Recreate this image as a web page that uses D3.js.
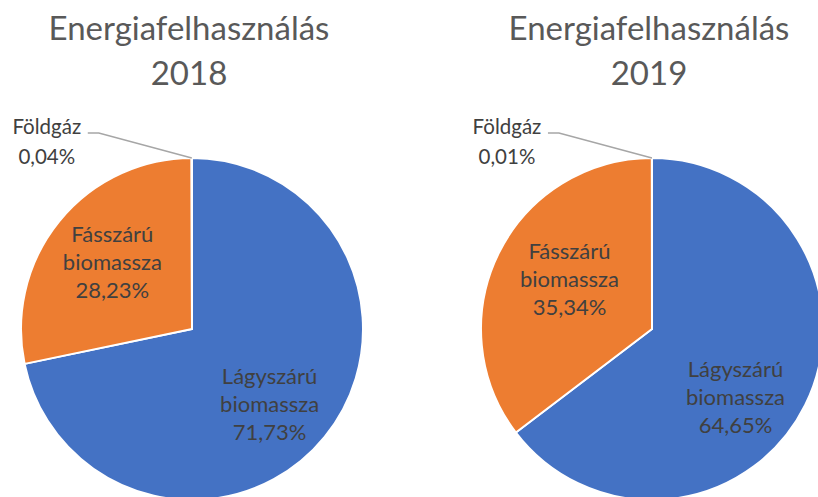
<!DOCTYPE html>
<html>
<head>
    <meta charset="utf-8">
    <title>Energiafelhasználás</title>
    <script src="https://d3js.org/d3.v7.min.js"></script>
    <style>
        body {
            margin: 0;
            background: #fff;
            font-family: Lato, "Open Sans", sans-serif;
        }
    </style>
</head>
<body>
    <div id="chart"></div>

    <script>
        // data
        var categories = ["Lágyszárú biomassza", "Fásszárú biomassza", "Földgáz"];
        var years = ["2018", "2019"];
        var values2018 = [71.73, 28.23, 0.04];
        var values2019 = [64.65, 35.34, 0.01];
        var colors = ["#4472C4", "#ED7D31", "#A5A5A5"];

        var width = 818;
        var height = 497;
        var radius = 171;
        var centers = [192, 652];
        var cy = 329;
        // "best fit" nudges of the inside labels, per chart and slice
        var nudges = [[[-6, 7], [4, 1]], [[-13, 20], [14, -2]]];

        var hu = d3.formatLocale({ decimal: ",", thousands: " ", grouping: [3], currency: ["", " Ft"] });
        var pct = hu.format(".2f");

        var svg = d3.select("#chart")
            .append("svg")
            .attr("width", width)
            .attr("height", height);

        var pie = d3.pie().sort(null).value(function(d) { return d; });
        var arc = d3.arc().innerRadius(0).outerRadius(radius);
        var labelArc = d3.arc().innerRadius(radius * 0.63).outerRadius(radius * 0.63);
        var edgeArc = d3.arc().innerRadius(radius).outerRadius(radius);

        [values2018, values2019].forEach(function(values, i) {
            var g = svg.append("g")
                .attr("transform", "translate(" + centers[i] + "," + cy + ")");

            // title
            var title = svg.append("text")
                .attr("text-anchor", "middle")
                .attr("fill", "#595959")
                .style("font-size", "33px");
            title.append("tspan").attr("x", centers[i] - 3).attr("y", 40).text("Energiafelhasználás");
            title.append("tspan").attr("x", centers[i] - 3).attr("y", 85).text(years[i]);

            var arcs = pie(values);

            g.selectAll("path")
                .data(arcs)
                .enter()
                .append("path")
                .attr("d", arc)
                .attr("fill", function(d, j) { return colors[j]; })
                .attr("stroke", "white")
                .attr("stroke-width", 2)
                .attr("stroke-linejoin", "round");

            // inside labels for the two big slices
            arcs.slice(0, 2).forEach(function(d, j) {
                var c = labelArc.centroid(d);
                var x = c[0] + nudges[i][j][0];
                var y = c[1] + nudges[i][j][1];
                var words = categories[j].split(" ").concat([pct(values[j]) + "%"]);
                var t = g.append("text")
                    .attr("text-anchor", "middle")
                    .attr("fill", "#404040")
                    .style("font-size", "22px");
                words.forEach(function(w, k) {
                    t.append("tspan")
                        .attr("x", x)
                        .attr("y", y + (k - 1) * 28 + 8)
                        .text(w);
                });
            });

            // outside label with leader line for the tiny slice
            var small = arcs[2];
            var p = edgeArc.centroid(small);
            var lx = p[0] - 93, ly = p[1] - 25;
            g.append("polyline")
                .attr("points", [[p[0], p[1]], [lx, ly], [lx - 11, ly]].map(function(q) { return q.join(","); }).join(" "))
                .attr("fill", "none")
                .attr("stroke", "#A6A6A6")
                .attr("stroke-width", 1.5);
            var t2 = g.append("text")
                .attr("text-anchor", "middle")
                .attr("fill", "#404040")
                .style("font-size", "20.5px");
            t2.append("tspan").attr("x", lx - 52).attr("y", ly + 1).text(categories[2]);
            t2.append("tspan").attr("x", lx - 52).attr("y", ly + 31).text(pct(values[2]) + "%");
        });
    </script>
</body>
</html>
